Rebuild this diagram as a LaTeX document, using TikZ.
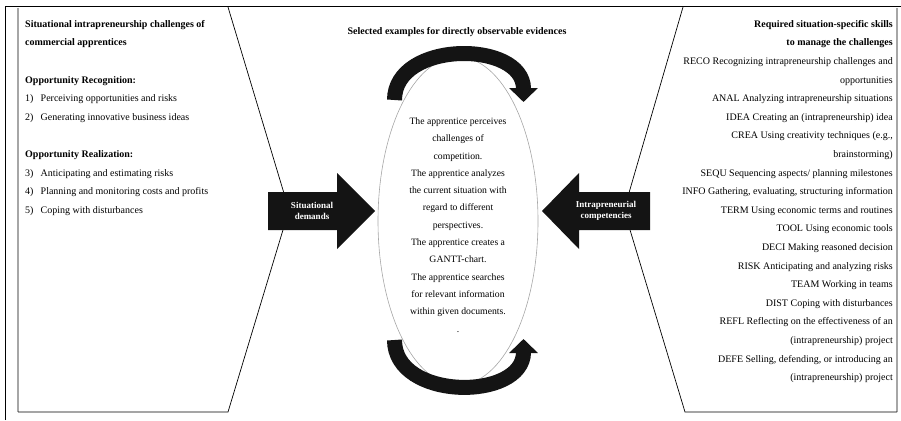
\documentclass[tikz,border=0pt]{standalone}
\usepackage{fontspec}
\setmainfont{Liberation Serif}
\usepackage{tikz}
\usetikzlibrary{arrows.meta}

\newcommand{\lnum}[1]{\makebox[15.5pt][l]{#1}}

\tikzset{
    panel/.style={draw=black, line width=0.7pt},
    panelshade/.style={draw=gray!70, line width=1.8pt},
    bigarrow/.style={fill=black!92, draw=none},
    arrowtxt/.style={text=white, font=\fontsize{9}{11}\selectfont\bfseries, align=center, inner sep=0pt},
    bodytxt/.style={font=\fontsize{10}{18.6}\selectfont, inner sep=0pt},
    midtxt/.style={font=\fontsize{9.7}{17.3}\selectfont, align=center, inner sep=0pt},
    turnarrow/.style={line width=15pt, draw=black!92, -{Triangle[length=14pt, width=28pt]}},
}

\begin{document}
\begin{tikzpicture}[x=1pt, y=-1pt]
    \useasboundingbox (0,0) rectangle (901,420);

    % outer frame
    \draw[line width=1pt] (5,420) -- (5,7) -- (901,7);

    % left and right panels
    \draw[panelshade] (18,8) -- (18,412);
    \draw[panel] (18,412) -- (228,412) -- (289,210) -- (228,7);
    \draw[panelshade] (897,8) -- (897,412);
    \draw[panel] (897,412) -- (685,412) -- (624,210) -- (683,7);

    % centre
    \node[font=\fontsize{10}{12}\selectfont\bfseries, inner sep=0pt, anchor=base] (seltitle) at (457,35)
        {Selected examples for directly observable evidences};
    \draw[gray!70, line width=0.6pt] (458,221) ellipse [x radius=80pt, y radius=164pt];

    \draw[turnarrow] (394.5,100) .. controls (394.5,40) and (523.5,40) .. (523.5,102);
    \draw[turnarrow] (394.5,340) .. controls (394.5,401) and (523.5,401) .. (523.5,339);

    \node[midtxt, anchor=north] (examples) at (458,117.5) {%
        The apprentice perceives\\
        challenges of\\
        competition.\\
        The apprentice analyzes\\
        the current situation with\\
        regard to different\\
        perspectives.\\
        The apprentice creates a\\
        GANTT-chart.\\
        The apprentice searches\\
        for relevant information\\
        within given documents.\\
        .};

    % block arrows
    \fill[bigarrow] (268,192) -- (337,192) -- (337,173) -- (375,211) -- (337,249) -- (337,230) -- (268,230) -- cycle;
    \node[arrowtxt] (sitdem) at (312,211) {Situational\\demands};
    \fill[bigarrow] (650,192) -- (579,192) -- (579,173) -- (542,211) -- (579,249) -- (579,230) -- (650,230) -- cycle;
    \node[arrowtxt] (intcomp) at (606,211) {Intrapreneurial\\competencies};

    % left text
    \node[bodytxt, anchor=north west, align=left] (challenges) at (25,20) {%
        \textbf{Situational intrapreneurship challenges of}\\
        \textbf{commercial apprentices}\\[18.6pt]
        \textbf{Opportunity Recognition:}\\
        \lnum{1)}Perceiving opportunities and risks\\
        \lnum{2)}Generating innovative business ideas\\[18.6pt]
        \textbf{Opportunity Realization:}\\
        \lnum{3)}Anticipating and estimating risks\\
        \lnum{4)}Planning and monitoring costs and profits\\
        \lnum{5)}Coping with disturbances};

    % right text
    \node[bodytxt, anchor=north east, align=right] (skills) at (893,20) {%
        \textbf{Required situation-specific skills}\\
        \textbf{to manage the challenges}\\
        RECO Recognizing intrapreneurship challenges and\\
        opportunities\\
        ANAL Analyzing intrapreneurship situations\\
        IDEA Creating an (intrapreneurship) idea\\
        CREA Using creativity techniques (e.g.,\\
        brainstorming)\\
        SEQU Sequencing aspects/ planning milestones\\
        INFO Gathering, evaluating, structuring information\\
        TERM Using economic terms and routines\\
        TOOL Using economic tools\\
        DECI Making reasoned decision\\
        RISK Anticipating and analyzing risks\\
        TEAM Working in teams\\
        DIST Coping with disturbances\\
        REFL Reflecting on the effectiveness of an\\
        (intrapreneurship) project\\
        DEFE Selling, defending, or introducing an\\
        (intrapreneurship) project};
\end{tikzpicture}
\end{document}
